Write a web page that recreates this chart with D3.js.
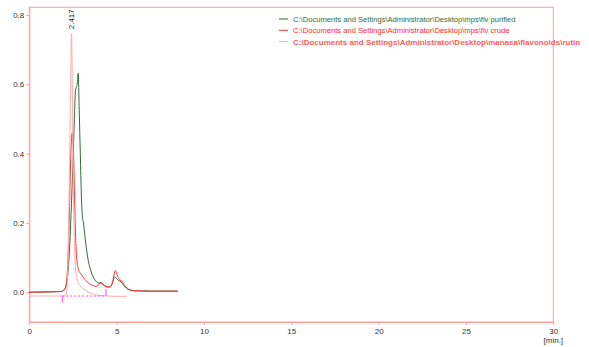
<!DOCTYPE html>
<html>
<head>
	<script src="https://d3js.org/d3.v7.min.js"></script>
	<style>
		body { margin: 0; background: #fff; }
		text { font-family: 'Liberation Sans', Arial, sans-serif; }
	</style>
</head>
<body>
<svg id="container"></svg>
</body>
<script>
// data (time in min, signal)
let purifiedT = [0, 1.8, 2.0, 2.1, 2.2, 2.3, 2.4, 2.5, 2.58, 2.64, 2.68, 2.74, 2.8, 2.86, 2.92, 2.98, 3.04, 3.1, 3.2, 3.3, 3.4, 3.55, 3.7, 3.85, 4.0, 4.1, 4.2, 4.35, 4.5, 4.65, 4.78, 4.88, 4.98, 5.1, 5.25, 5.4, 5.55, 5.7, 6.0, 7.0, 8.5];
let purifiedV = [0.0, 0.002, 0.008, 0.018, 0.05, 0.12, 0.24, 0.37, 0.5, 0.58, 0.59, 0.6, 0.632, 0.52, 0.4, 0.28, 0.22, 0.2, 0.155, 0.115, 0.085, 0.058, 0.04, 0.03, 0.026, 0.028, 0.024, 0.018, 0.015, 0.016, 0.03, 0.044, 0.04, 0.034, 0.03, 0.02, 0.012, 0.007, 0.004, 0.003, 0.003];

let crudeT = [0, 1.9, 2.0, 2.1, 2.2, 2.3, 2.38, 2.46, 2.54, 2.6, 2.66, 2.72, 2.8, 2.9, 3.0, 3.1, 3.25, 3.4, 3.6, 3.8, 3.95, 4.05, 4.12, 4.25, 4.4, 4.6, 4.75, 4.85, 4.93, 5.0, 5.1, 5.2, 5.3, 5.45, 5.6, 5.8, 6.2, 7.0, 8.5];
let crudeV = [0.0, 0.002, 0.006, 0.02, 0.08, 0.24, 0.4, 0.46, 0.39, 0.26, 0.15, 0.095, 0.068, 0.056, 0.05, 0.042, 0.033, 0.026, 0.02, 0.017, 0.02, 0.026, 0.025, 0.02, 0.016, 0.015, 0.025, 0.05, 0.063, 0.055, 0.04, 0.035, 0.032, 0.02, 0.012, 0.006, 0.004, 0.003, 0.003];

let rutinT = [0, 2.0, 2.1, 2.2, 2.3, 2.38, 2.417, 2.46, 2.52, 2.58, 2.65, 2.72, 2.8, 2.9, 3.0, 3.2, 3.4, 3.7, 4.0, 4.5, 5.0, 5.6];
let rutinV = [-0.011, -0.011, -0.008, 0.05, 0.35, 0.65, 0.747, 0.6, 0.3, 0.15, 0.07, 0.04, 0.028, 0.02, 0.014, 0.006, 0.0, -0.006, -0.009, -0.011, -0.012, -0.012];

let seriesNames = [
	'C:\\Documents and Settings\\Administrator\\Desktop\\mps\\flv purified',
	'C:\\Documents and Settings\\Administrator\\Desktop\\mps\\flv crude',
	'C:\\Documents and Settings\\Administrator\\Desktop\\manasa\\flavonoids\\rutin'
];

let xTicks = [0, 5, 10, 15, 20, 25, 30];
let yTicks = [0.0, 0.2, 0.4, 0.6, 0.8];

// peak label and integration baseline of the rutin peak
let peakLabel = {t: 2.417, v: 0.747, text: '2.417'};
let integStart = 1.89, integEnd = 4.39, integLevel = -0.011;
</script>

<script>
let svg = d3.select('#container')
	.attr('width', 589)
	.attr('height', 347);

let x = d3.scaleLinear().domain([0, 30]).range([29.3, 553.3]);
let y = d3.scaleLinear().domain([-0.086, 0.822]).range([322, 7.3]);

let frameColor = '#ff9e9e';
let colors = ['#2f6b38', '#ff3333', '#ffabab'];
let textColors = ['#2f6b2f', '#ff2a2a', '#ff5c5c'];

// frame
svg.append('rect')
	.attr('x', x(0))
	.attr('y', y(0.822))
	.attr('width', x(30) - x(0))
	.attr('height', y(-0.086) - y(0.822))
	.attr('fill', 'none')
	.attr('stroke', frameColor);

// axes
let yAxis = svg.append('g')
	.attr('transform', 'translate(' + x(0) + ',0)')
	.call(d3.axisLeft(y).tickValues(yTicks).tickFormat(d3.format('.1f')).tickSize(3).tickSizeOuter(0).tickPadding(2));
let xAxis = svg.append('g')
	.attr('transform', 'translate(0,' + y(-0.086) + ')')
	.call(d3.axisBottom(x).tickValues(xTicks).tickSize(3).tickSizeOuter(0).tickPadding(3));

[xAxis, yAxis].forEach(function(a) {
	a.select('.domain').attr('stroke', frameColor);
	a.selectAll('.tick line').attr('stroke', frameColor);
	a.selectAll('.tick text')
		.attr('fill', '#333')
		.style('font-size', '8px')
		.style('font-family', "'Liberation Sans', Arial, sans-serif");
});

svg.append('text')
	.attr('x', x(30))
	.attr('y', 343)
	.attr('text-anchor', 'middle')
	.attr('fill', '#333')
	.style('font-size', '8px')
	.text('[min.]');

// traces
let line = d3.line()
	.x((d) => { return x(d[0]) })
	.y((d) => { return y(d[1]) })
	.curve(d3.curveMonotoneX);

let series = [
	d3.zip(purifiedT, purifiedV),
	d3.zip(crudeT, crudeV),
	d3.zip(rutinT, rutinV)
];

svg.append('g').selectAll('path')
	.data(series)
	.join('path')
	.attr('d', line)
	.attr('fill', 'none')
	.attr('stroke', (d, i) => { return colors[i] })
	.attr('stroke-width', 1);

// integration baseline
let integ = svg.append('g').attr('stroke', '#ff44ff').attr('stroke-width', 1);
integ.append('line')
	.attr('x1', x(integStart)).attr('x2', x(integEnd))
	.attr('y1', y(integLevel)).attr('y2', y(integLevel))
	.attr('stroke-dasharray', '2,2');
integ.append('line')
	.attr('x1', x(integStart)).attr('x2', x(integStart))
	.attr('y1', y(integLevel)).attr('y2', y(integLevel - 0.019));
integ.append('line')
	.attr('x1', x(integEnd)).attr('x2', x(integEnd))
	.attr('y1', y(integLevel)).attr('y2', y(integLevel + 0.02));

// peak label
svg.append('text')
	.attr('transform', 'translate(' + (x(peakLabel.t) + 2.5) + ',' + (y(peakLabel.v) - 4) + ') rotate(-90)')
	.attr('fill', '#222')
	.style('font-size', '8px')
	.text(peakLabel.text);

// legend
let legend = svg.append('g').attr('transform', 'translate(279,19)');
let items = legend.selectAll('g')
	.data(seriesNames)
	.join('g')
	.attr('transform', (d, i) => { return 'translate(0,' + (i * 11.3) + ')' });
items.append('line')
	.attr('x1', 0).attr('x2', 9)
	.attr('stroke', (d, i) => { return colors[i] });
items.append('text')
	.attr('x', 14)
	.attr('y', 3)
	.attr('fill', (d, i) => { return textColors[i] })
	.style('font-size', (d, i) => { return i == 2 ? '8px' : '7.6px' })
	.style('font-weight', (d, i) => { return i == 2 ? 'bold' : 'normal' })
	.text((d) => { return d });
</script>
</html>
